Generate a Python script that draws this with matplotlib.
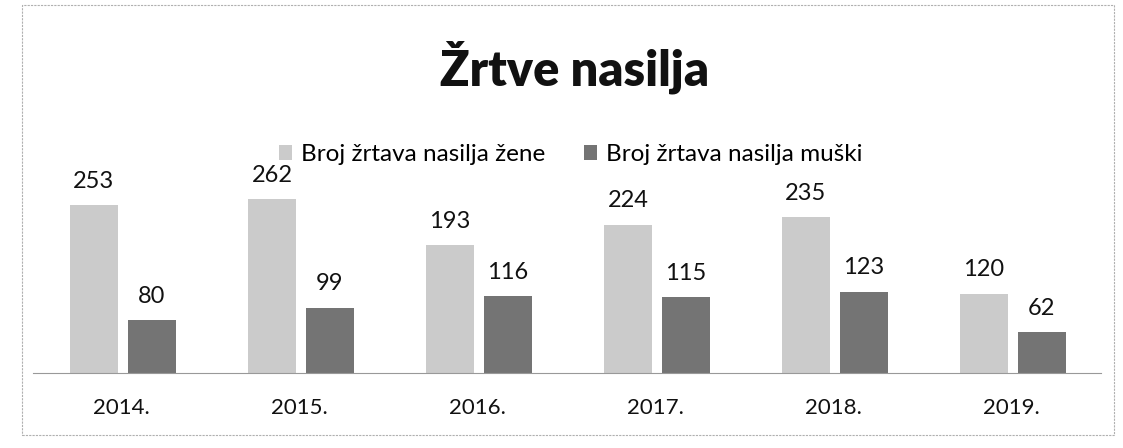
import matplotlib.pyplot as plt
import matplotlib.patches as mpatches
import numpy as np

years = ["2014.", "2015.", "2016.", "2017.", "2018.", "2019."]
zene = [253, 262, 193, 224, 235, 120]
muski = [80, 99, 116, 115, 123, 62]
labels = ["Broj žrtava nasilja žene", "Broj žrtava nasilja muški"]
colors = ["#cbcbcb", "#747474"]

plt.rcParams["font.family"] = ["Lato", "DejaVu Sans"]

fig = plt.figure(figsize=(11.23, 4.48), dpi=100)
ax = fig.add_axes([0.029, 0.167, 0.951, 0.444])

x = np.arange(len(years))
w = 0.27
b1 = ax.bar(x - 0.155, zene, w, color=colors[0], label=labels[0])
b2 = ax.bar(x + 0.17, muski, w, color=colors[1], label=labels[1])

for bars, vals in ((b1, zene), (b2, muski)):
    for r, v in zip(bars, vals):
        ax.text(r.get_x() + r.get_width() / 2, v + 20, str(v),
                ha="center", va="bottom", fontsize=17, color="#111111")

ax.set_xlim(-0.5, len(years) - 0.5)
ax.set_ylim(0, 300)
ax.set_xticks(x)
ax.set_xticklabels(years, fontsize=16, color="#111111")
ax.tick_params(axis="x", length=0, pad=18)
ax.set_yticks([])
for s in ["top", "right", "left"]:
    ax.spines[s].set_visible(False)
ax.spines["bottom"].set_color("#999999")
ax.spines["bottom"].set_linestyle((0, (2, 1)))
ax.spines["bottom"].set_linewidth(0.8)

fig.text(0.512, 0.85, "Žrtve nasilja", ha="center", va="center",
         fontsize=35, fontweight="heavy", color="#111111")

fig.legend(loc="center", bbox_to_anchor=(0.508, 0.655), ncol=2, frameon=False,
           fontsize=17.5, handlelength=0.55, handleheight=0.55, handletextpad=0.35,
           columnspacing=1.6)

# thin frame around the chart
fig.patches.append(mpatches.Rectangle((0.02, 0.028), 0.972, 0.96, transform=fig.transFigure,
                                      fill=False, edgecolor="#b0b0b0", linewidth=0.8,
                                      linestyle=(0, (2, 1))))

fig.savefig("out.png", dpi=100)
